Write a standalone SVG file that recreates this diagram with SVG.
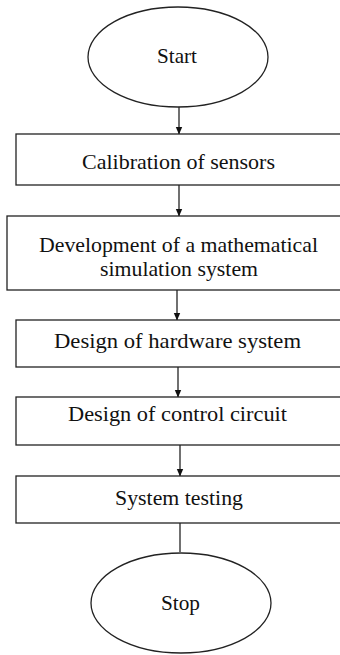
<svg xmlns="http://www.w3.org/2000/svg" width="340" height="655" viewBox="0 0 340 655">
<style>
.shape{fill:#fff;stroke:#222;stroke-width:1.3}
.lbl{font-family:"Liberation Serif","Times New Roman",serif;font-size:22px;fill:#111;text-anchor:middle}
.conn{stroke:#111;stroke-width:1.2;fill:none}
</style>
<defs>
<marker id="ah" markerWidth="8" markerHeight="8" refX="7" refY="4" orient="auto" markerUnits="userSpaceOnUse">
<path d="M0,0.8 L7.5,4 L0,7.2 Z" fill="#111"/>
</marker>
</defs>
<rect width="340" height="655" fill="#fff"/>
<g id="connectors">
<line class="conn" x1="179" y1="107" x2="179" y2="134" marker-end="url(#ah)"/>
<line class="conn" x1="179" y1="185" x2="179" y2="216" marker-end="url(#ah)"/>
<line class="conn" x1="177" y1="290" x2="177" y2="320" marker-end="url(#ah)"/>
<line class="conn" x1="178" y1="367" x2="178" y2="397" marker-end="url(#ah)"/>
<line class="conn" x1="180" y1="445" x2="180" y2="476" marker-end="url(#ah)"/>
<line class="conn" x1="180" y1="523" x2="180" y2="552"/>
</g>
<g id="start">
<ellipse class="shape" cx="178" cy="57" rx="90" ry="50"/>
<text class="lbl" x="177" y="63" textLength="40" lengthAdjust="spacingAndGlyphs">Start</text>
</g>
<g id="calibration">
<rect class="shape" x="16" y="134" width="340" height="51"/>
<text class="lbl" x="178.5" y="169" textLength="193" lengthAdjust="spacingAndGlyphs">Calibration  of sensors</text>
</g>
<g id="development">
<rect class="shape" x="7" y="216" width="345" height="74"/>
<text class="lbl" x="178.5" y="252" textLength="279" lengthAdjust="spacingAndGlyphs">Development of a mathematical</text>
<text class="lbl" x="179" y="276" textLength="158" lengthAdjust="spacingAndGlyphs">simulation system</text>
</g>
<g id="hardware">
<rect class="shape" x="16" y="320" width="340" height="47"/>
<text class="lbl" x="177.5" y="348" textLength="247" lengthAdjust="spacingAndGlyphs">Design of hardware system</text>
</g>
<g id="control">
<rect class="shape" x="16" y="397" width="340" height="48"/>
<text class="lbl" x="177.5" y="421" textLength="219" lengthAdjust="spacingAndGlyphs">Design of control circuit</text>
</g>
<g id="testing">
<rect class="shape" x="16" y="476" width="340" height="47"/>
<text class="lbl" x="179" y="505" textLength="128" lengthAdjust="spacingAndGlyphs">System testing</text>
</g>
<g id="stop">
<ellipse class="shape" cx="181" cy="603" rx="90" ry="50"/>
<text class="lbl" x="180.5" y="610" textLength="39" lengthAdjust="spacingAndGlyphs">Stop</text>
</g>
</svg>
